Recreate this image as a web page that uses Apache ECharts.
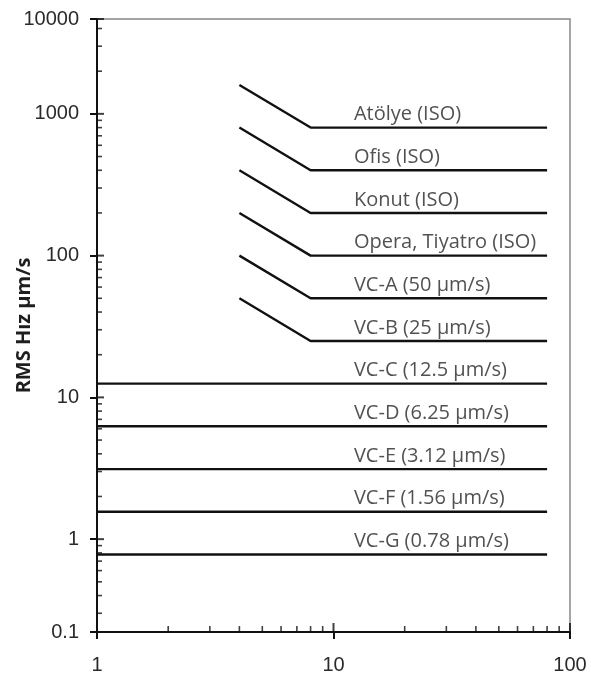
<!DOCTYPE html>
<html>
<head>
<meta charset="utf-8">
<title>RMS Hız kriterleri</title>
<script src="https://cdn.jsdelivr.net/npm/echarts@6/dist/echarts.min.js"></script>
<style>
  html, body { margin: 0; padding: 0; background: #ffffff; }
  #chart { width: 591px; height: 677px; }
</style>
</head>
<body>
<div id="chart"></div>
<script>
// ISO building criteria and VC curves: sloped from 4 Hz to 8 Hz, then flat to 80 Hz
const isoNames = ['Atölye (ISO)', 'Ofis (ISO)', 'Konut (ISO)', 'Opera, Tiyatro (ISO)', 'VC-A (50 µm/s)', 'VC-B (25 µm/s)'];
const isoStartLevels = [1600, 800, 400, 200, 100, 50];   // value at 4 Hz
const isoFlatLevels = [800, 400, 200, 100, 50, 25];      // value from 8 Hz to 80 Hz
const isoFreqs = [4, 8, 80];

// Flat VC curves from 1 Hz to 80 Hz
const vcNames = ['VC-C (12.5 µm/s)', 'VC-D (6.25 µm/s)', 'VC-E (3.12 µm/s)', 'VC-F (1.56 µm/s)', 'VC-G (0.78 µm/s)'];
const vcLevels = [12.5, 6.25, 3.12, 1.56, 0.78];
const vcFreqs = [1, 80];

// Axis extents and tick labels
const xMin = 1, xMax = 100;
const yMin = 0.2213, yMax = 4668;
const yTickLabels = ['0.1', '1', '10', '100', '1000', '10000'];
const xTickLabels = ['1', '10', '100'];
const yAxisTitle = 'RMS Hız µm/s';
const labelHz = 12.2;   // where the curve names start

// Tick positions on the two log axes
const xMajor = [1, 10, 100];
const xMinor = [];
for (let d = 1; d <= 10; d *= 10) for (let k = 2; k <= 9; k++) xMinor.push(k * d);
const yMajor = [yMin, 1, 10, 100, 1000, yMax];
const yMinor = [];
for (let d = 0.1; d <= 1000; d *= 10) for (let k = 2; k <= 9; k++) {
  const v = +(k * d).toPrecision(3);
  if (v > yMin && v < yMax) yMinor.push(v);
}

const INK = '#111111';
const series = [];

isoNames.forEach((name, i) => {
  series.push({
    name, type: 'line', symbol: 'none', silent: true,
    lineStyle: { color: INK, width: 2.4 },
    data: [[isoFreqs[0], isoStartLevels[i]], [isoFreqs[1], isoFlatLevels[i]], [isoFreqs[2], isoFlatLevels[i]]]
  });
});
vcNames.forEach((name, i) => {
  series.push({
    name, type: 'line', symbol: 'none', silent: true,
    lineStyle: { color: INK, width: 2.4 },
    data: [[vcFreqs[0], vcLevels[i]], [vcFreqs[1], vcLevels[i]]]
  });
});

// Curve names sit just above each flat segment
series.push({
  type: 'scatter', silent: true, symbolSize: 0, clip: false,
  data: isoNames.map((n, i) => [labelHz, isoFlatLevels[i], n])
    .concat(vcNames.map((n, i) => [labelHz, vcLevels[i], n])),
  label: {
    show: true, position: 'top', distance: 3, align: 'left',
    formatter: p => p.data[2],
    fontFamily: 'Open Sans', fontSize: 20, color: '#262626'
  }
});

// Inside halves of major ticks and the log-spaced minor ticks
function tickSeries(points, size, offset) {
  return {
    type: 'scatter', silent: true, clip: false, symbol: 'rect',
    symbolSize: size, symbolOffset: offset,
    itemStyle: { color: INK }, data: points
  };
}
series.push(tickSeries(xMajor.map(v => [v, yMin]), [2, 9], [0, -4.5]));
series.push(tickSeries(xMinor.map(v => [v, yMin]), [1.6, 6], [0, -3]));
series.push(tickSeries(yMajor.map(v => [xMin, v]), [7, 2], [3.5, 0]));
series.push(tickSeries(yMinor.map(v => [xMin, v]), [5, 1.6], [2.5, 0]));

const chart = echarts.init(document.getElementById('chart'), null, { renderer: 'canvas' });
chart.setOption({
  animation: false,
  backgroundColor: '#ffffff',
  grid: {
    left: 97, right: 21, top: 19, bottom: 45,
    outerBoundsMode: 'none', containLabel: false,
    show: true, borderColor: '#888888', borderWidth: 1.5, backgroundColor: 'transparent'
  },
  xAxis: {
    type: 'log', logBase: 10, min: xMin, max: xMax,
    axisLine: { lineStyle: { color: INK, width: 2 } },
    axisTick: { show: true, length: 7, lineStyle: { color: INK, width: 2 } },
    splitLine: { show: false },
    axisLabel: {
      margin: 23, fontFamily: 'Liberation Sans', fontSize: 20, color: '#2a2a2a',
      formatter: (v, i) => xTickLabels[i]
    }
  },
  yAxis: {
    type: 'log', logBase: 10, min: yMin, max: yMax,
    name: yAxisTitle, nameLocation: 'middle', nameGap: 63, nameRotate: 90,
    nameMoveOverlap: false,
    nameTextStyle: { fontFamily: 'Open Sans', fontWeight: 'bold', fontSize: 20, color: '#1e1e1e' },
    axisLine: { lineStyle: { color: INK, width: 2 } },
    axisTick: { show: true, length: 7, lineStyle: { color: INK, width: 2 } },
    splitLine: { show: false },
    axisLabel: {
      margin: 18, fontFamily: 'Liberation Sans', fontSize: 20, color: '#2a2a2a',
      showMinLabel: true, showMaxLabel: true,
      formatter: (v, i) => yTickLabels[i]
    }
  },
  series
});
</script>
</body>
</html>
